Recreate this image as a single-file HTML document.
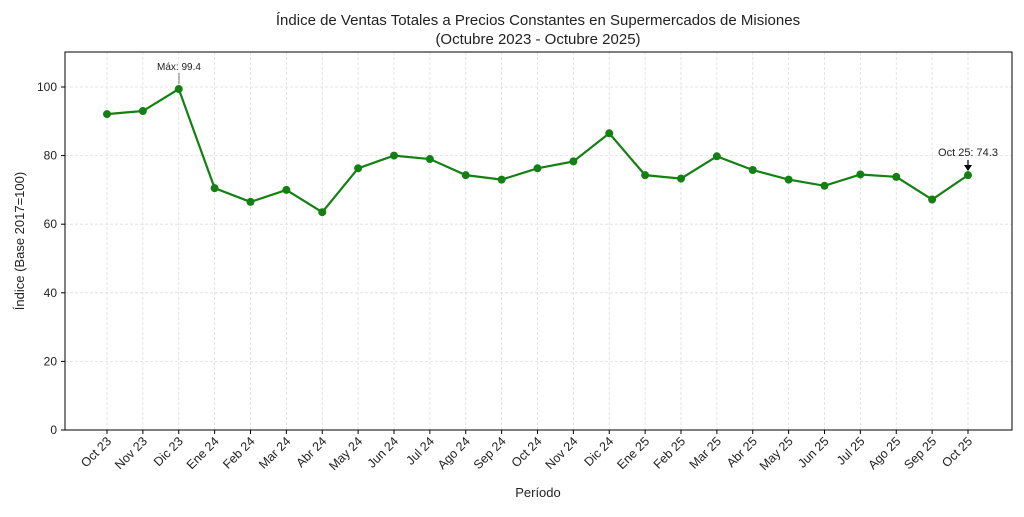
<!DOCTYPE html>
<html><head><meta charset="utf-8"><style>
body{margin:0;background:#fff;}
svg text{font-family:"Liberation Sans",sans-serif;fill:#222;}
</style></head><body>
<svg width="1024" height="512" viewBox="0 0 1024 512" xmlns="http://www.w3.org/2000/svg">
<rect width="1024" height="512" fill="#fff"/>
<text x="538" y="25" font-size="15" text-anchor="middle">Índice de Ventas Totales a Precios Constantes en Supermercados de Misiones</text>
<text x="538" y="44" font-size="15" text-anchor="middle">(Octubre 2023 - Octubre 2025)</text>
<g id="grid" stroke="#ddd" stroke-width="0.8" stroke-dasharray="3,2"></g>
<rect x="65" y="52" width="947" height="378" fill="none" stroke="#000" stroke-width="1"/>
<g id="yt" font-size="12"></g>
<g id="xt" font-size="12.5"></g>
<text x="24" y="241" font-size="13" text-anchor="middle" transform="rotate(-90 24 241)">Índice (Base 2017=100)</text>
<text x="538" y="497" font-size="13" text-anchor="middle">Período</text>
<polyline id="line" fill="none" stroke="#138013" stroke-width="2.2"/>
<g id="pts" fill="#138013"></g>
<text x="179" y="70" font-size="10" text-anchor="middle">Máx: 99.4</text>
<line x1="179" y1="73" x2="179" y2="84" stroke="#555" stroke-width="0.8"/>
<text x="968" y="156" font-size="11" text-anchor="middle">Oct 25: 74.3</text>
<line x1="968" y1="160" x2="968" y2="170" stroke="#000" stroke-width="1.2"/>
<path d="M964,165 L968,171 L972,165 Z" fill="#000"/>
</svg>
<script>
const v=[92.1,93,99.4,70.5,66.5,70,63.5,76.3,80,79,74.3,73,76.3,78.3,86.5,74.3,73.3,79.8,75.8,73,71.2,74.5,73.8,67.2,74.3];
const lab=["Oct 23","Nov 23","Dic 23","Ene 24","Feb 24","Mar 24","Abr 24","May 24","Jun 24","Jul 24","Ago 24","Sep 24","Oct 24","Nov 24","Dic 24","Ene 25","Feb 25","Mar 25","Abr 25","May 25","Jun 25","Jul 25","Ago 25","Sep 25","Oct 25"];
const X=i=>107+i*35.875,Y=d=>430-d*3.43;
const ns="http://www.w3.org/2000/svg";
function el(t,a,p,txt){const e=document.createElementNS(ns,t);for(const k in a)e.setAttribute(k,a[k]);if(txt!==undefined)e.textContent=String(txt);document.getElementById(p).appendChild(e);}
for(let d=0;d<=100;d+=20){const y=Y(d);if(d>0)el("line",{x1:65,x2:1012,y1:y,y2:y},"grid");el("line",{x1:61,x2:65,y1:y,y2:y,stroke:"#000"},"yt");el("text",{x:57,y:y+4,"text-anchor":"end"},"yt",d);}
let pts=[];
v.forEach((d,i)=>{const x=X(i);el("line",{x1:x,x2:x,y1:52,y2:430},"grid");el("line",{x1:x,x2:x,y1:430,y2:434,stroke:"#000"},"xt");
el("text",{x:x+5,y:442,"text-anchor":"end",transform:`rotate(-45 ${x+5} 442)`},"xt",lab[i]);
pts.push(x+","+Y(d));el("circle",{cx:x,cy:Y(d),r:4},"pts");});
document.getElementById("line").setAttribute("points",pts.join(" "));
</script>
</body></html>
